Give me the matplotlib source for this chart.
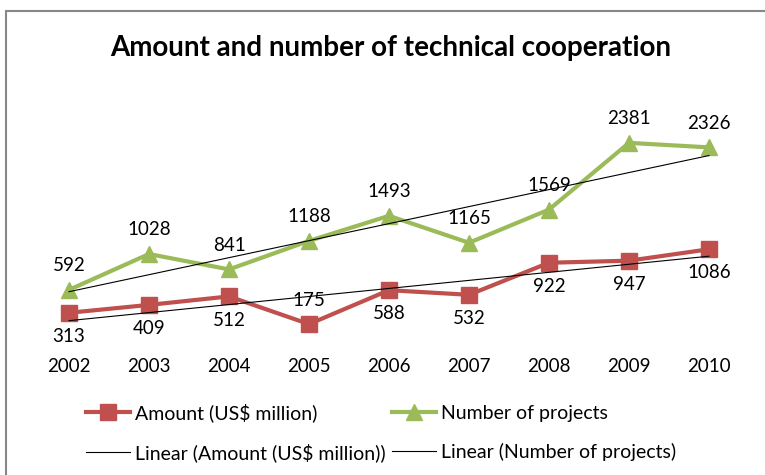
import numpy as np
import matplotlib
matplotlib.use("Agg")
import matplotlib.pyplot as plt
from matplotlib.lines import Line2D
from matplotlib.patches import Rectangle

plt.rcParams['font.family'] = ['Lato', 'DejaVu Sans']

years = ["2002", "2003", "2004", "2005", "2006", "2007", "2008", "2009", "2010"]
amount = [313, 409, 512, 175, 588, 532, 922, 947, 1086]
projects = [592, 1028, 841, 1188, 1493, 1165, 1569, 2381, 2326]

RED = "#C0504D"
GREEN = "#9BBB59"

W, H = 765, 475
fig = plt.figure(figsize=(W / 100, H / 100), dpi=100)

# chart-area border
fig.add_artist(Rectangle((5.5 / W, -0.1), 1.2, (H - 11) / H + 0.1, transform=fig.transFigure,
                         fill=False, edgecolor="#878787", linewidth=1.5))

ax = fig.add_axes([29 / W, (H - 338.5) / H, 720 / W, 246.5 / H])
x = np.arange(len(years))

ax.plot(x, amount, color=RED, lw=3, marker="s", ms=11, zorder=3)
ax.plot(x, projects, color=GREEN, lw=3, marker="^", ms=12, zorder=3)

# linear trend lines
for vals in (amount, projects):
    k, b = np.polyfit(x, vals, 1)
    ax.plot(x, k * x + b, color="black", lw=0.8, zorder=4)

for xi, v in zip(x, projects):
    ax.annotate(str(v), (xi, v), xytext=(0, 17.5), textcoords="offset points",
                ha="center", va="center", fontsize=13.5)
for xi, v in zip(x, amount):
    off = 17 if v == 175 else -17
    ax.annotate(str(v), (xi, v), xytext=(0, off), textcoords="offset points",
                ha="center", va="center", fontsize=13.5)

ax.set_xlim(-0.5, len(years) - 0.5)
ax.set_ylim(0, 3000)
ax.set_xticks(x)
ax.set_xticklabels(years, fontsize=13.5)
ax.tick_params(axis="x", length=0, pad=14)
ax.set_yticks([])
for s in ax.spines.values():
    s.set_visible(False)

fig.text(391 / W, 1 - 48 / H, "Amount and number of technical cooperation",
         ha="center", va="center", fontsize=20, fontweight="bold")

handles = [
    Line2D([], [], color=RED, lw=3, marker="s", ms=11),
    Line2D([], [], color="black", lw=0.8),
    Line2D([], [], color=GREEN, lw=3, marker="^", ms=12),
    Line2D([], [], color="black", lw=0.8),
]
labels = ["Amount (US$ million)", "Linear (Amount (US$ million))",
          "Number of projects", "Linear (Number of projects)"]
fig.legend(handles, labels, ncol=2, loc="upper left",
           bbox_to_anchor=(86 / W, 1 - 403 / H), frameon=False, fontsize=14,
           borderpad=0, borderaxespad=0,
           handlelength=2.25, handletextpad=0.25, columnspacing=0.35, labelspacing=1.1)

fig.savefig("out.png", dpi=100)
